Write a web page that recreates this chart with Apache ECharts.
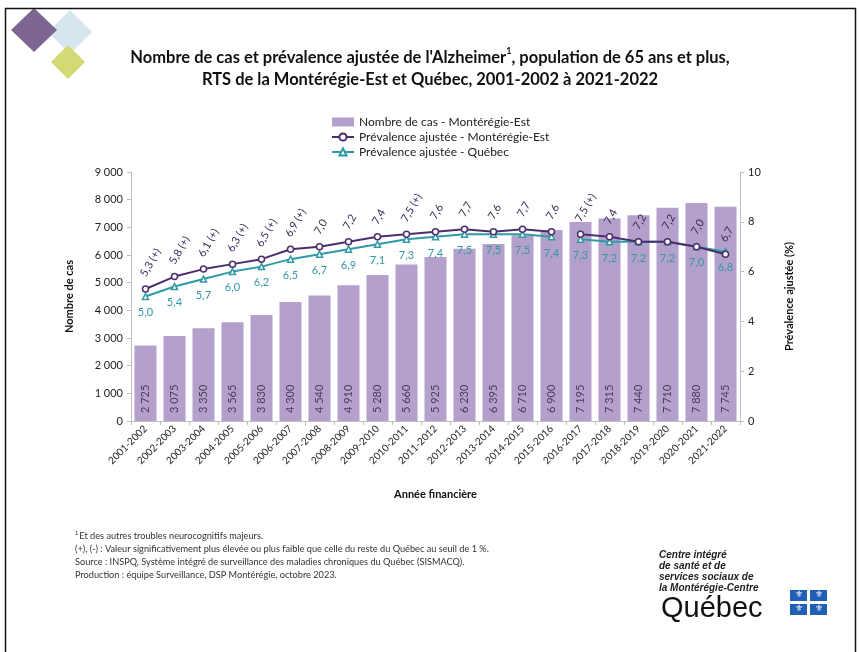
<!DOCTYPE html>
<html><head><meta charset="utf-8">
<script src="https://cdn.jsdelivr.net/npm/echarts@6/dist/echarts.min.js"></script>
<style>html,body{margin:0;padding:0;background:#fff}#c{width:860px;height:652px}</style>
</head><body><div id="c"></div>
<script>
const categories = ['2001-2002','2002-2003','2003-2004','2004-2005','2005-2006','2006-2007','2007-2008','2008-2009','2009-2010','2010-2011','2011-2012','2012-2013','2013-2014','2014-2015','2015-2016','2016-2017','2017-2018','2018-2019','2019-2020','2020-2021','2021-2022'];
const casMonteregie = [2725,3075,3350,3565,3830,4300,4540,4910,5280,5660,5925,6230,6395,6710,6900,7195,7315,7440,7710,7880,7745];
const prevMonteregie = [5.3,5.8,6.1,6.3,6.5,6.9,7.0,7.2,7.4,7.5,7.6,7.7,7.6,7.7,7.6,7.5,7.4,7.2,7.2,7.0,6.7];
const flagMonteregie = ['(+)','(+)','(+)','(+)','(+)','(+)','','','','(+)','','','','','','(+)','','','','',''];
const prevQuebec = [5.0,5.4,5.7,6.0,6.2,6.5,6.7,6.9,7.1,7.3,7.4,7.5,7.5,7.5,7.4,7.3,7.2,7.2,7.2,7.0,6.8];
const breakIndex = 15; // series interrupted between 2015-2016 and 2016-2017
const leftTicks = {min:0, max:9000, interval:1000};
const rightTicks = {min:0, max:10, interval:2};

const FONT = 'Lato, "Open Sans", sans-serif';
const C_BAR = '#b4a1cb', C_M = '#4d2d6c', C_Q = '#2f9aa6';
const fmtNum = v => String(v).replace(/\B(?=(\d{3})+(?!\d))/g, ' ');
const fmtDec = v => v.toFixed(1).replace('.', ',');

function part(arr, first) {
  return arr.map((v, i) => (first ? i < breakIndex : i >= breakIndex) ? v : null);
}
const mLabel = {
  show: true, position: 'top', distance: 8, rotate: 60, align: 'left', verticalAlign: 'middle',
  offset: [0, -3], color: '#3e2a5a', fontSize: 11, fontFamily: FONT,
  formatter: p => fmtDec(p.value) + (flagMonteregie[p.dataIndex] ? ' ' + flagMonteregie[p.dataIndex] : '')
};
const qLabel = {
  show: true, position: 'bottom', distance: 7, color: '#3497a6', fontSize: 11, fontFamily: FONT,
  formatter: p => fmtDec(p.value)
};
function mSeries(first) {
  return {name: 'Prévalence ajustée - Montérégie-Est', type: 'line', yAxisIndex: 1, data: part(prevMonteregie, first),
    connectNulls: false, symbol: 'circle', symbolSize: 6, z: 4,
    lineStyle: {color: C_M, width: 2}, itemStyle: {color: '#fff', borderColor: C_M, borderWidth: 1.5},
    label: mLabel};
}
function qSeries(first) {
  return {name: 'Prévalence ajustée - Québec', type: 'line', yAxisIndex: 1, data: part(prevQuebec, first),
    connectNulls: false, symbol: 'triangle', symbolSize: 6, z: 3,
    lineStyle: {color: C_Q, width: 2}, itemStyle: {color: '#fff', borderColor: C_Q, borderWidth: 1.5},
    label: qLabel};
}

const chart = echarts.init(document.getElementById('c'), null, {renderer: 'canvas'});
chart.setOption({
  animation: false,
  backgroundColor: '#fff',
  textStyle: {fontFamily: FONT},
  title: {
    text: "Nombre de cas et prévalence ajustée de l'Alzheimer{sup|1}, population de 65 ans et plus,\nRTS de la Montérégie-Est et Québec, 2001-2002 à 2021-2022",
    left: 'center', top: 42,
    textStyle: {fontFamily: FONT, fontSize: 16.5, fontWeight: 'bold', color: '#111', lineHeight: 22,
      rich: {sup: {fontSize: 9, fontWeight: 'bold', verticalAlign: 'top', padding: [0, 0, 3, 0], color: '#111', fontFamily: FONT}}}
  },
  legend: {
    orient: 'vertical', left: 326, top: 111, itemGap: 3, itemWidth: 22, itemHeight: 9,
    textStyle: {fontSize: 12, color: '#222', fontFamily: FONT},
    data: [
      {name: 'Nombre de cas - Montérégie-Est', icon: 'rect'},
      {name: 'Prévalence ajustée - Montérégie-Est'},
      {name: 'Prévalence ajustée - Québec'}
    ]
  },
  grid: {left: 131, right: 120, top: 172, bottom: 231},
  xAxis: {
    type: 'category', data: categories,
    name: 'Année financière', nameLocation: 'middle', nameGap: 68,
    nameTextStyle: {fontWeight: 'bold', fontSize: 11, color: '#111', fontFamily: FONT},
    axisLine: {lineStyle: {color: '#bfbfbf'}},
    axisTick: {show: true, length: 4, lineStyle: {color: '#bfbfbf'}},
    axisLabel: {rotate: 45, fontSize: 10, color: '#222', interval: 0, margin: 6, fontFamily: FONT}
  },
  yAxis: [
    {type: 'value', min: leftTicks.min, max: leftTicks.max, interval: leftTicks.interval,
      name: 'Nombre de cas', nameLocation: 'middle', nameGap: 56, nameRotate: 90,
      nameTextStyle: {fontWeight: 'bold', fontSize: 11, color: '#111', fontFamily: FONT},
      axisLine: {show: true, lineStyle: {color: '#bfbfbf'}},
      axisTick: {show: true, length: 4, lineStyle: {color: '#bfbfbf'}},
      splitLine: {show: false},
      axisLabel: {formatter: v => fmtNum(v), fontSize: 11, color: '#222', margin: 8, fontFamily: FONT}},
    {type: 'value', min: rightTicks.min, max: rightTicks.max, interval: rightTicks.interval, position: 'right',
      name: 'Prévalence ajustée (%)', nameLocation: 'middle', nameGap: 44, nameRotate: 90,
      nameTextStyle: {fontWeight: 'bold', fontSize: 11, color: '#111', fontFamily: FONT},
      axisLine: {show: true, lineStyle: {color: '#bfbfbf'}},
      axisTick: {show: true, length: 4, lineStyle: {color: '#bfbfbf'}},
      splitLine: {show: false},
      axisLabel: {fontSize: 11, color: '#222', margin: 8, fontFamily: FONT}}
  ],
  series: [
    {name: 'Nombre de cas - Montérégie-Est', type: 'bar', data: casMonteregie, barCategoryGap: '24%',
      itemStyle: {color: C_BAR}, z: 2,
      label: {show: true, position: 'insideBottom', rotate: 90, align: 'left', verticalAlign: 'middle', distance: 8,
        color: '#4a3c5c', fontSize: 11, fontFamily: FONT, formatter: p => fmtNum(p.value)}},
    mSeries(true), mSeries(false), qSeries(true), qSeries(false)
  ],
  graphic: [
    {type: 'rect', shape: {x: 5.5, y: 8.5, width: 850, height: 700}, style: {fill: 'none', stroke: '#111', lineWidth: 1.5}, z: 100},
    {type: 'polygon', shape: {points: [[70, 10], [92, 32], [70, 54], [48, 32]]}, style: {fill: '#d6e6ee'}, z: 1},
    {type: 'polygon', shape: {points: [[34, 8], [57, 30], [34, 52], [11, 30]]}, style: {fill: '#7e6692'}, z: 2},
    {type: 'polygon', shape: {points: [[68, 45], [85, 62], [68, 79], [51, 62]]}, style: {fill: '#d3da73'}, z: 2},
    {type: 'text', left: 75, top: 530, style: {text: '{s|1}Et des autres troubles neurocognitifs majeurs.\n(+), (-) : Valeur significativement plus élevée ou plus faible que celle du reste du Québec au seuil de 1 %.\nSource : INSPQ, Système intégré de surveillance des maladies chroniques du Québec (SISMACQ).\nProduction : équipe Surveillance, DSP Montérégie, octobre 2023.',
      font: '9.2px ' + FONT, fill: '#333', lineHeight: 12.8,
      rich: {s: {fontSize: 6, verticalAlign: 'top', padding: [0, 1, 5, 0], fill: '#333'}}}},
    {type: 'text', left: 659, top: 550, style: {text: 'Centre intégré\nde santé et de\nservices sociaux de\nla Montérégie-Centre',
      font: 'italic bold 10px "Liberation Sans", Arial, sans-serif', fill: '#222', lineHeight: 11}},
    {type: 'text', left: 661, top: 594, style: {text: 'Québec', font: '29px "Liberation Sans", Arial, sans-serif', fill: '#111'}},
    {type: 'rect', shape: {x: 790, y: 590, width: 17, height: 11}, style: {fill: '#1f5fb4'}},
    {type: 'rect', shape: {x: 810, y: 590, width: 17, height: 11}, style: {fill: '#1f5fb4'}},
    {type: 'rect', shape: {x: 790, y: 604, width: 17, height: 11}, style: {fill: '#1f5fb4'}},
    {type: 'rect', shape: {x: 810, y: 604, width: 17, height: 11}, style: {fill: '#1f5fb4'}},
    {type: 'text', left: 795, top: 590, style: {text: '⚜', font: '9px "DejaVu Sans"', fill: '#fff'}, z: 10},
    {type: 'text', left: 815, top: 590, style: {text: '⚜', font: '9px "DejaVu Sans"', fill: '#fff'}, z: 10},
    {type: 'text', left: 795, top: 604, style: {text: '⚜', font: '9px "DejaVu Sans"', fill: '#fff'}, z: 10},
    {type: 'text', left: 815, top: 604, style: {text: '⚜', font: '9px "DejaVu Sans"', fill: '#fff'}, z: 10}
  ]
});
</script></body></html>
